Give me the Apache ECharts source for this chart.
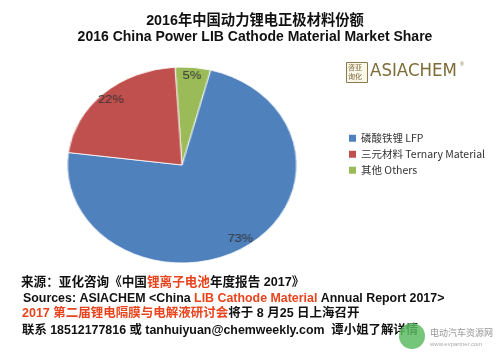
<!DOCTYPE html>
<html><head><meta charset="utf-8">
<script src="https://cdn.jsdelivr.net/npm/echarts@6/dist/echarts.min.js"></script>
<style>
html,body{margin:0;padding:0;background:#fff;}
#main{position:absolute;left:0;top:0;width:500px;height:356px;}
#pie{position:absolute;left:82px;top:65px;width:200px;height:200px;transform:scaleX(1.17);transform-origin:100px 100px;}
</style></head>
<body>
<div id="main"></div>
<div id="pie"></div>
<script>
// data
var titleCN = '2016年中国动力锂电正极材料份额';
var titleEN = '2016 China Power LIB Cathode Material Market Share';
var categories = ['磷酸铁锂 LFP', '三元材料 Ternary Material', '其他 Others'];
var shares = [73, 22, 5];
var colors = ['#4F81BD', '#C0504D', '#9BBB59'];
// drawing order around the pie (clockwise from top): Others, LFP, Ternary
var drawOrder = [2, 0, 1];

var FONT = '"Liberation Sans", "Noto Sans CJK SC", sans-serif';
var CJK = '"Noto Sans CJK SC", "Liberation Sans", sans-serif';

var pieData = drawOrder.map(function(i){
  return {name: categories[i], value: shares[i], itemStyle: {color: colors[i]}};
});

var main = echarts.init(document.getElementById('main'), null, {renderer: 'canvas'});
main.setOption({
  animation: false,
  legend: {
    orient: 'vertical', left: 344, top: 128,
    itemWidth: 7, itemHeight: 7, itemGap: 5.5,
    icon: 'rect',
    data: categories,
    textStyle: {fontFamily: CJK, fontSize: 10.5, color: '#333'}
  },
  series: [{
    type: 'pie', center: [182, 165], radius: [0, 1], silent: true,
    label: {show: false}, labelLine: {show: false},
    data: pieData
  }],
  graphic: [
    // titles
    {type: 'text', x: 255, y: 21, style: {text: titleCN, font: 'bold 14.3px ' + FONT, fill: '#111', align: 'center', verticalAlign: 'middle'}},
    {type: 'text', x: 255, y: 37.5, style: {text: titleEN, font: 'bold 14px ' + FONT, fill: '#111', align: 'center', verticalAlign: 'middle'}},
    // ASIACHEM logo
    {type: 'rect', left: 346, top: 62, shape: {width: 21, height: 20}, style: {fill: '#fbf7ea', stroke: '#8a7a4a', lineWidth: 1}},
    {type: 'text', left: 348, top: 63, style: {text: '咨亚\n询化', font: '7px "Noto Sans CJK SC"', fill: '#7a6a3a', lineHeight: 9}},
    {type: 'text', left: 370, top: 62, style: {text: 'ASIACHEM', font: '18.5px "DejaVu Sans Condensed", "DejaVu Sans"', fill: '#7d6b38'}},
    {type: 'text', left: 460, top: 62, style: {text: '®', font: '5px sans-serif', fill: '#7d6b38'}},
    // footer
    {type: 'text', left: 21, top: 276, style: {
      text: '{a|来源：亚化咨询《中国}{r|锂离子电池}{a|年度报告 2017》}',
      rich: {a: {font: 'bold 12.6px ' + FONT, fill: '#111'}, r: {font: 'bold 12.6px ' + FONT, fill: '#E8441E'}}}},
    {type: 'text', left: 23, top: 292, style: {
      text: '{a|Sources: ASIACHEM <China }{r|LIB Cathode Material}{a| Annual Report 2017>}',
      rich: {a: {font: 'bold 12.4px ' + FONT, fill: '#111'}, r: {font: 'bold 12.4px ' + FONT, fill: '#E8441E'}}}},
    {type: 'text', left: 22, top: 307, style: {
      text: '{r|2017 第二届锂电隔膜与电解液研讨会}{a|将于 8 月25 日上海召开}',
      rich: {a: {font: 'bold 12.5px ' + FONT, fill: '#111'}, r: {font: 'bold 12.5px ' + FONT, fill: '#E8441E'}}}},
    {type: 'text', left: 22, top: 324, style: {
      text: '联系 18512177816 或 tanhuiyuan@chemweekly.com  谭小姐了解详情',
      font: 'bold 12.4px ' + FONT, fill: '#111'}},
    // watermark
    {type: 'circle', shape: {cx: 412, cy: 336, r: 13}, style: {fill: '#5dbb63', opacity: 0.85}},
    {type: 'text', left: 430, top: 328, style: {text: '电动汽车资源网', font: '9px "Noto Sans CJK SC"', fill: '#999'}},
    {type: 'text', left: 430, top: 341, style: {text: 'www.evpartner.com', font: '6px "Liberation Sans"', fill: '#aaa'}}
  ]
});

var pie = echarts.init(document.getElementById('pie'), null, {renderer: 'canvas'});
pie.setOption({
  animation: false,
  series: [
    {
      type: 'pie', center: ['50%', '50%'], radius: [0, 98], startAngle: 93.5, clockwise: true,
      silent: true, label: {show: false}, labelLine: {show: false},
      itemStyle: {borderColor: '#ffffff', borderWidth: 0.8},
      data: pieData
    },
    {
      type: 'pie', center: ['50%', '50%'], radius: [74, 98], startAngle: 93.5, clockwise: true,
      silent: true,
      itemStyle: {color: 'rgba(0,0,0,0)'},
      label: {show: true, position: 'inside', formatter: '{c}%', fontFamily: '"Liberation Sans"', fontSize: 11, color: '#333'},
      labelLine: {show: false},
      data: pieData.map(function(d){ return {name: d.name, value: d.value}; })
    }
  ]
});
</script>
</body></html>
